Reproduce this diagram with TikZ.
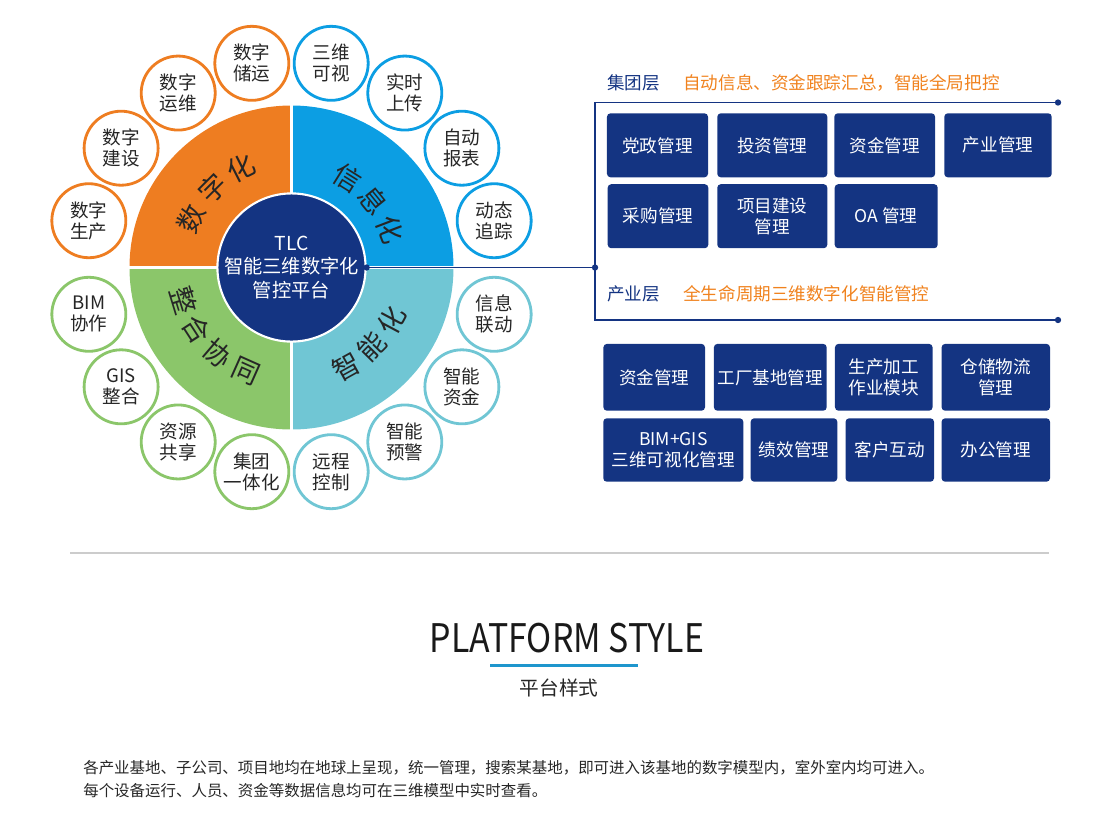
\documentclass[tikz,border=0pt]{standalone}
\usepackage{fontspec}
\setmainfont{Noto Sans CJK SC}
\definecolor{wOrange}{RGB}{238,125,33}
\definecolor{wBlue}{RGB}{12,158,227}
\definecolor{wGreen}{RGB}{139,198,106}
\definecolor{wTeal}{RGB}{112,198,212}
\definecolor{navy}{RGB}{20,52,130}
\definecolor{tOrange}{RGB}{240,130,30}
\definecolor{uline}{RGB}{30,150,205}
\tikzset{
  ring/.style={circle,draw=#1,line width=2pt,fill=white,minimum size=1.85cm,inner sep=0pt,
    align=center,text=black!85,font=\fontsize{13.2}{15}\selectfont},
  qlabel/.style={inner sep=0pt,text=black!85,font=\fontsize{19.5}{20}\selectfont},
  box/.style={fill=navy,text=white,rounded corners=2.5pt,inner sep=0pt,minimum height=1.6cm,
    align=center,font=\fontsize{12.5}{15}\selectfont},
  jdot/.style={circle,fill=navy,inner sep=0pt,minimum size=4.5pt},
  layer/.style={anchor=west,inner sep=0pt,font=\fontsize{12.5}{14}\selectfont},
}
\begin{document}
\begin{tikzpicture}[x=0.025cm,y=0.025cm]
	\useasboundingbox (0,0) rectangle (1100,-838);
	\coordinate (c) at (291.5,-267.5);
	% wheel
	\fill[wOrange] (c) -- ++(180:162) arc (180:90:162) -- cycle;
	\fill[wBlue] (c) -- ++(90:162) arc (90:0:162) -- cycle;
	\fill[wTeal] (c) -- ++(0:162) arc (0:-90:162) -- cycle;
	\fill[wGreen] (c) -- ++(-90:162) arc (-90:-180:162) -- cycle;
	\foreach \a in {0,90,180,270} \draw[white,line width=2.5pt] (c) -- ++(\a:165);
	\node[circle,fill=navy,draw=white,line width=1.5pt,minimum size=3.5cm,inner sep=0pt,text=white,
		align=center,font=\fontsize{13.7}{16.6}\selectfont] (hub) at (c) {TLC\\智能三维数字化\\管控平台};
	\foreach \ch/\a [count=\i] in {数/154,字/135,化/117}
		\node[qlabel,rotate=\a-90] (qa\i) at ([shift={(\a:112)}]c) {\ch};
	\foreach \ch/\a [count=\i] in {信/58,息/39,化/21}
		\node[qlabel,rotate=\a-90] (qb\i) at ([shift={(\a:106)}]c) {\ch};
	\foreach \ch/\a [count=\i] in {整/197,合/213,协/229.5,同/246}
		\node[qlabel,rotate=\a+90] (qc\i) at ([shift={(\a:113)}]c) {\ch};
	\foreach \ch/\a [count=\i] in {智/-61,能/-44.5,化/-28}
		\node[qlabel,rotate=\a+90] (qd\i) at ([shift={(\a:113)}]c) {\ch};
	% outer circles
	\foreach \a/\t [count=\i] in {101/{数字\\储运},123/{数字\\运维},145/{数字\\建设},167/{数字\\生产}}
		\node[ring=wOrange] (oa\i) at ([shift={(\a:208)}]c) {\t};
	\foreach \a/\t [count=\i] in {79/{三维\\可视},57/{实时\\上传},35/{自动\\报表},13/{动态\\追踪}}
		\node[ring=wBlue] (ob\i) at ([shift={(\a:208)}]c) {\t};
	\foreach \a/\t [count=\i] in {193/{BIM\\协作},215/{GIS\\整合},237/{资源\\共享},259/{集团\\一体化}}
		\node[ring=wGreen] (oc\i) at ([shift={(\a:208)}]c) {\t};
	\foreach \a/\t [count=\i] in {-13/{信息\\联动},-35/{智能\\资金},-57/{智能\\预警},-79/{远程\\控制}}
		\node[ring=wTeal] (od\i) at ([shift={(\a:208)}]c) {\t};
	% bracket
	\coordinate (j) at (595,-267.5);
	\coordinate (tl) at (595,-102.5);
	\coordinate (tr) at (1058,-102.5);
	\coordinate (bl) at (595,-320);
	\coordinate (br) at (1058,-320);
	\draw[navy,line width=1pt] (hub.east) -- (j);
	\draw[navy,line width=1pt] (tr) -- (tl) -- (bl) -- (br);
	\node[jdot] (d1) at (hub.east) {};
	\node[jdot] (d2) at (j) {};
	\node[jdot] (d3) at (tr) {};
	\node[jdot] (d4) at (br) {};
	\node[layer,text=navy] (g1) at (607,-83) {集团层};
	\node[layer,text=tOrange] (g2) at (683,-83) {自动信息、资金跟踪汇总，智能全局把控};
	\node[layer,text=navy] (i1) at (607,-294) {产业层};
	\node[layer,text=tOrange] (i2) at (683,-294) {全生命周期三维数字化智能管控};
	% group boxes
	\node[box,minimum width=2.525cm] (ga) at (657.5,-145.3) {党政管理};
	\node[box,minimum width=2.75cm] (gb) at (772.3,-145.3) {投资管理};
	\node[box,minimum width=2.52cm] (gc) at (884.7,-145.3) {资金管理};
	\node[box,minimum width=2.685cm] (gd) at (998,-145.3) {产业管理};
	\node[box,minimum width=2.515cm] (ge) at (658,-216.2) {采购管理};
	\node[box,minimum width=2.75cm] (gf) at (772.3,-216.2) {项目建设\\管理};
	\node[box,minimum width=2.575cm] (gg) at (886.2,-216.2) {OA 管理};
	% industry boxes
	\node[box,minimum width=2.54cm,minimum height=1.67cm] (ia) at (654.2,-377.3) {资金管理};
	\node[box,minimum width=2.82cm,minimum height=1.67cm] (ib) at (770.3,-377.3) {工厂基地管理};
	\node[box,minimum width=2.44cm,minimum height=1.67cm] (ic) at (883.8,-377.3) {生产加工\\作业模块};
	\node[box,minimum width=2.71cm,minimum height=1.67cm] (id) at (995.8,-377.3) {仓储物流\\管理};
	\node[box,minimum width=3.5cm,minimum height=1.585cm] (ie) at (673.3,-450) {BIM+GIS\\三维可视化管理};
	\node[box,minimum width=2.165cm,minimum height=1.585cm] (if) at (794,-450) {绩效管理};
	\node[box,minimum width=2.21cm,minimum height=1.585cm] (ig) at (889.8,-450) {客户互动};
	\node[box,minimum width=2.71cm,minimum height=1.585cm] (ih) at (995.8,-450) {办公管理};
	% lower part
	\draw[black!20,line width=0.8pt] (70,-553) -- (1049,-553);
	\node[inner sep=0pt,text=black!90,font=\fontsize{28}{30}\selectfont] (title) at (567,-638)
		{\scalebox{0.86}[1]{PLATFORM STYLE}};
	\draw[uline,line width=1.5pt] (490,-665.5) -- (638,-665.5);
	\node[inner sep=0pt,text=black!85,font=\fontsize{14}{16}\selectfont] (sub) at (559,-688) {平台样式};
	\node[anchor=west,inner sep=0pt,text=black!85,font=\fontsize{11}{13}\selectfont] (b1) at (83,-768)
		{各产业基地、子公司、项目地均在地球上呈现，统一管理，搜索某基地，即可进入该基地的数字模型内，室外室内均可进入。};
	\node[anchor=west,inner sep=0pt,text=black!85,font=\fontsize{11}{13}\selectfont] (b2) at (83,-791)
		{每个设备运行、人员、资金等数据信息均可在三维模型中实时查看。};
\end{tikzpicture}
\end{document}
